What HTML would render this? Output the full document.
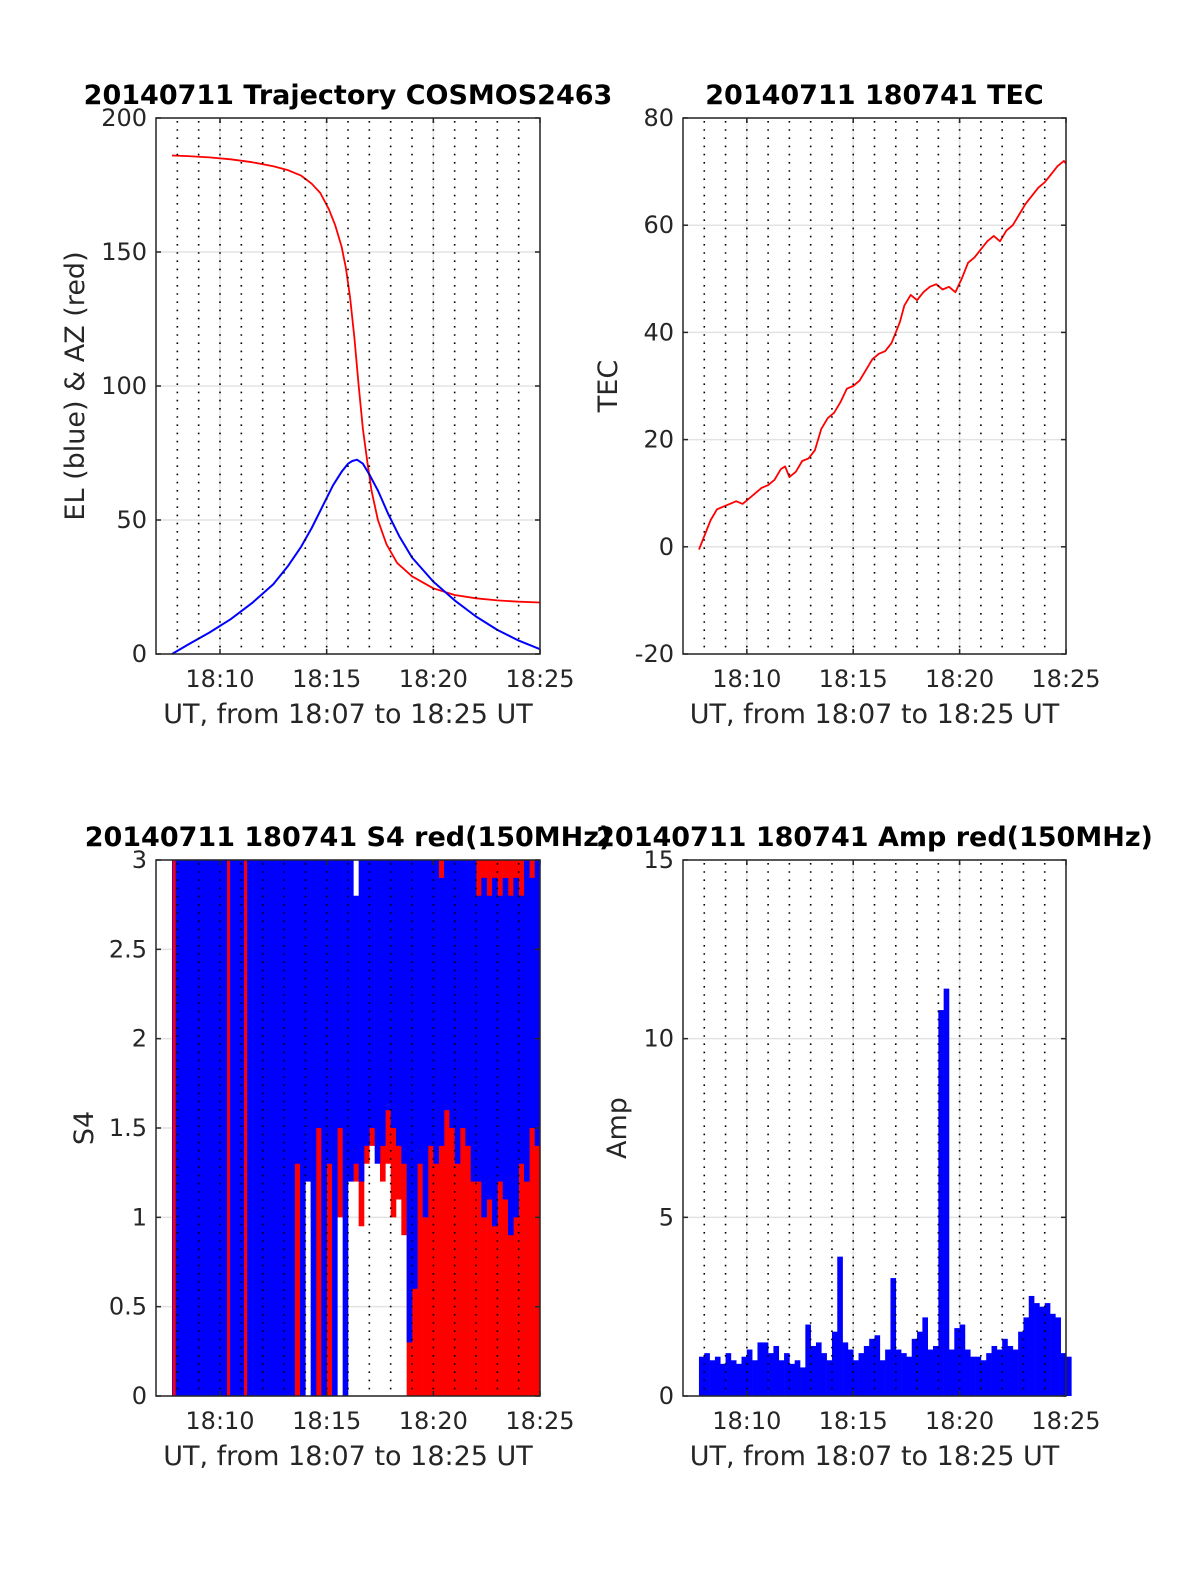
<!DOCTYPE html>
<html><head><meta charset="utf-8"><title>COSMOS2463 20140711</title>
<style>
html,body{margin:0;padding:0;background:#fff;}
svg{display:block;font-family:"DejaVu Sans","Liberation Sans",sans-serif;}
</style></head>
<body>
<svg id="fig" width="1200" height="1575" viewBox="0 0 1200 1575"></svg>
<script>
// ---------- data ----------
const xTickLabels = ["18:10","18:15","18:20","18:25"];
const xTickMinutes = [3,8,13,18];
// panel 1: trajectory (minutes after 18:07)
const azTime = [0.75,1.5,2.5,3.5,4.5,5.5,6.2,6.8,7.3,7.7,8.1,8.4,8.7,8.9,9.1,9.3,9.5,9.7,9.9,10.1,10.4,10.8,11.3,12,13,14,15,16,17,18];
const azValue = [186,185.8,185.3,184.6,183.5,182,180.5,178.5,175.5,172,166,160,152,144,133,118,100,84,72,61,50,41,34,29,24.5,22,20.8,20,19.5,19.2];
const elTime = [0.75,1.5,2.5,3.5,4.5,5.5,6.2,6.8,7.3,7.8,8.3,8.7,9.0,9.2,9.42,9.7,10.0,10.4,10.9,11.4,12,13,14,15,16,17,18];
const elValue = [0,3.5,8,13,19,26,33,40,47,55,63,68,71,72,72.5,71,67,61,52,44,36,27,20,14,9,5,1.8];
// panel 2: TEC
const tecTime = [0.75,1.0,1.3,1.6,1.9,2.2,2.5,2.8,3.1,3.4,3.7,4.0,4.3,4.6,4.8,5.0,5.3,5.6,5.9,6.2,6.5,6.8,7.1,7.4,7.7,8.0,8.3,8.6,8.9,9.2,9.5,9.8,10.0,10.2,10.4,10.7,11.0,11.3,11.6,11.9,12.2,12.5,12.8,13.1,13.4,13.7,14.0,14.3,14.6,14.9,15.2,15.5,15.8,16.1,16.4,16.7,17.0,17.3,17.6,17.9,18.0];
const tecValue = [-0.5,2,5,7,7.5,8,8.5,8,9,10,11,11.5,12.5,14.5,15,13,14,16,16.5,18,22,24,25,27,29.5,30,31,33,35,36,36.5,38,40,42,45,47,46,47.5,48.5,49,48,48.5,47.5,50,53,54,55.5,57,58,57,59,60,62,64,65.5,67,68,69.5,71,72,71.5];
// panel 3: S4 per 0.25-min bin (range low/high)
const s4BlueLow = [0,0,0,0,0,0,0,0,0,0,0,0,0,0,0,0,0,0,0,0,0,0,0,1.3,0,1.2,0,1.5,0,1.3,0,1.5,0,1.2,1.3,1.2,1.4,1.5,1.3,1.4,1.6,1.5,1.4,1.3,0.3,0.6,1.3,1.0,1.4,1.3,1.4,1.6,1.5,1.3,1.5,1.4,1.2,1.2,1.0,1.1,0.95,1.2,1.1,0.9,1.0,1.3,1.2,1.5,1.4];
const s4BlueHigh = [3,3,3,3,3,3,3,3,3,3,3,3,3,3,3,3,3,3,3,3,3,3,3,3,3,3,3,3,3,3,3,3,3,3,2.8,3,3,3,3,3,3,3,3,3,3,3,3,3,3,3,2.9,3,3,3,3,3,3,2.8,2.9,2.8,2.9,2.8,2.9,2.8,2.9,2.8,3,2.9,3];
const s4RedLow = [0,0,0,0,0,0,0,0,0,0,0,0,0,0,0,0,0,0,0,0,0,0,0,0,1.5,1.6,1.0,0,1.0,0,1.2,1.0,1.2,1.3,1.2,0.95,1.3,1.4,1.4,1.2,1.3,1.0,1.1,0.9,0,0,0,0,0,0,0,0,0,0,0,0,0,0,0,0,0,0,0,0,0,0,0,0,0];
const s4RedHigh = [3,3,3,3,3,3,3,3,3,3,3,3,3,3,3,3,3,3,3,3,3,3,3,3,3,2.8,2.2,2.1,2.0,2.2,2.6,2.0,2.0,2.0,1.7,1.6,2.0,1.8,1.9,1.8,2.0,1.5,2.4,2.0,3,3,3,3,2.5,1.8,3,3,3,3,3,3,3,3,3,3,3,3,3,3,3,3,3,3,3];
const s4RedOverlayTime = [0.85,3.4,4.2];
// panel 4: amplitude per 0.25-min bin (max)
const ampBlue = [1.1,1.2,1.0,1.1,0.9,1.2,1.0,0.9,1.1,1.3,1.0,1.5,1.5,1.2,1.4,1.0,1.2,0.9,1.0,0.8,2.0,1.4,1.5,1.2,1.0,1.8,3.9,1.5,1.3,1.0,1.2,1.4,1.6,1.7,1.0,1.3,3.3,1.3,1.2,1.1,1.6,1.8,2.2,1.3,1.4,10.8,11.4,1.3,1.9,2.0,1.3,1.1,1.1,1.0,1.2,1.4,1.3,1.6,1.4,1.3,1.8,2.2,2.8,2.6,2.5,2.6,2.3,2.2,1.2,1.1];
const binStart = 0.75, binWidth = 0.25;

// ---------- drawing ----------
const NS = "http://www.w3.org/2000/svg";
const svg = document.getElementById("fig");
function mk(tag, attrs, parent){
  const e = document.createElementNS(NS, tag);
  for (const k in attrs) e.setAttribute(k, attrs[k]);
  (parent||svg).appendChild(e);
  return e;
}
function txt(parent, x, y, s, size, anchor, weight, extra){
  const t = mk("text", Object.assign({x:x, y:y, "font-size":size, "text-anchor":anchor||"middle", fill:"#262626", "font-weight":weight||"normal"}, extra||{}), parent);
  t.textContent = s;
  return t;
}

function makePanel(name, L, T, R, B, yMin, yMax, yTicks, yTickLabels, title, ylabel, ylabelX){
  const g = mk("g", {});
  
  
  const xs = m => L + (R-L)*m/18;
  const ys = v => B - (B-T)*(v-yMin)/(yMax-yMin);
  mk("rect", {x:L, y:T, width:R-L, height:B-T, fill:"#fff"}, g);
  const grid = mk("g", {}, g);
  
  
  yTicks.forEach(v => mk("line", {x1:L, x2:R, y1:ys(v), y2:ys(v), stroke:"#e3e3e3", "stroke-width":1.5}, grid));
  xTickMinutes.forEach(m => mk("line", {x1:xs(m), x2:xs(m), y1:T, y2:B, stroke:"#e3e3e3", "stroke-width":1.5}, grid));
  const plot = mk("g", {}, g);
  
  
  return {g, plot, xs, ys, finish(){
    const dots2 = mk("g", {}, g);
    
    
    for (let m=1; m<=17; m++) mk("line", {x1:xs(m), x2:xs(m), y1:T+3, y2:B, stroke:"#000", "stroke-width":1.6, "stroke-dasharray":"1.6 6.6"}, dots2);
    mk("rect", {x:L, y:T, width:R-L, height:B-T, fill:"none", stroke:"#262626", "stroke-width":1.5}, g);
    const tk = mk("g", {}, g);
    
    
    yTicks.forEach((v,i) => {
      mk("line", {x1:L, x2:L+5, y1:ys(v), y2:ys(v), stroke:"#262626", "stroke-width":1.5}, tk);
      mk("line", {x1:R-5, x2:R, y1:ys(v), y2:ys(v), stroke:"#262626", "stroke-width":1.5}, tk);
      const t = txt(tk, L-9, ys(v)+8, yTickLabels[i], 24, "end");
      
      
    });
    xTickMinutes.forEach((m,i) => {
      mk("line", {x1:xs(m), x2:xs(m), y1:B-5, y2:B, stroke:"#262626", "stroke-width":1.5}, tk);
      mk("line", {x1:xs(m), x2:xs(m), y1:T, y2:T+5, stroke:"#262626", "stroke-width":1.5}, tk);
      const t = txt(tk, xs(m), B+33, xTickLabels[i], 24, "middle");
      
      
    });
    const xl = txt(g, (L+R)/2, B+69, "UT, from 18:07 to 18:25 UT", 27, "middle");
    
    
    const yl = txt(g, ylabelX, (T+B)/2, ylabel, 27, "middle", "normal", {transform:"rotate(-90 "+ylabelX+" "+((T+B)/2)+")"});
    
    
    const ti = txt(g, (L+R)/2, T-14, title, 27, "middle", "bold", {fill:"#000"});
    
    
  }};
}
function polyline(p, times, vals, color, w, name){
  const pts = times.map((t,i) => p.xs(t).toFixed(1)+","+p.ys(vals[i]).toFixed(1)).join(" ");
  const l = mk("polyline", {points:pts, fill:"none", stroke:color, "stroke-width":w, "stroke-linejoin":"round"}, p.plot);
  
  
}
function ranges(p, lows, highs, color, name){
  lows.forEach((lo,i) => {
    const hi = highs[i];
    const x0 = p.xs(binStart + i*binWidth), x1 = p.xs(binStart + (i+1)*binWidth);
    const r = mk("rect", {x:x0, y:p.ys(hi), width:(x1-x0)+0.3, height:Math.max(0,p.ys(lo)-p.ys(hi)), fill:color}, p.plot);
    
    
  });
}

// Panel 1
const p1 = makePanel("trajectory-panel", 156, 118, 540, 654, 0, 200, [0,50,100,150,200], ["0","50","100","150","200"], "20140711 Trajectory COSMOS2463", "EL (blue) & AZ (red)", 84);
polyline(p1, azTime, azValue, "#ff0000", 1.8, "azimuth-line");
polyline(p1, elTime, elValue, "#0000ff", 2, "elevation-line");
p1.finish();

// Panel 2
const p2 = makePanel("tec-panel", 683, 118, 1066, 654, -20, 80, [-20,0,20,40,60,80], ["-20","0","20","40","60","80"], "20140711 180741 TEC", "TEC", 617);
polyline(p2, tecTime, tecValue, "#ff0000", 1.8, "tec-line");
p2.finish();

// Panel 3
const p3 = makePanel("s4-panel", 156, 860, 540, 1396, 0, 3, [0,0.5,1,1.5,2,2.5,3], ["0","0.5","1","1.5","2","2.5","3"], "20140711 180741 S4 red(150MHz)", "S4", 93);
ranges(p3, s4RedLow, s4RedHigh, "#ff0000", "s4-red-bar");
ranges(p3, s4BlueLow, s4BlueHigh, "#0000ff", "s4-blue-bar");
s4RedOverlayTime.forEach(t => {
  const l = mk("line", {x1:p3.xs(t), x2:p3.xs(t), y1:p3.ys(3), y2:p3.ys(0), stroke:"#ff0000", "stroke-width":3}, p3.plot);
  
  
});
p3.finish();

// Panel 4
const p4 = makePanel("amp-panel", 683, 860, 1066, 1396, 0, 15, [0,5,10,15], ["0","5","10","15"], "20140711 180741 Amp red(150MHz)", "Amp", 626);
ranges(p4, ampBlue.map(()=>0), ampBlue, "#0000ff", "amp-blue-bar");
p4.finish();
</script>
</body></html>
